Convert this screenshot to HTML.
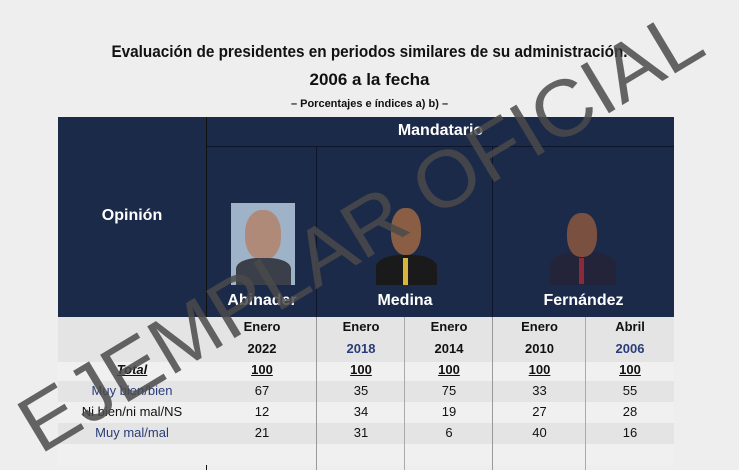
<!DOCTYPE html>
<html><head><meta charset="utf-8"><style>
body{margin:0;width:739px;height:470px;background:#eeeeee;overflow:hidden;position:relative;font-family:"Liberation Sans Narrow","Liberation Sans",sans-serif}
.a{position:absolute}
.t{position:absolute;text-align:center;white-space:nowrap}
.dk{background:#1c2a4a}
.w{color:#fff;font-weight:bold}
</style></head><body>
<div class="t" style="left:0;width:739px;top:42px;font-size:17px;font-weight:bold;color:#111;transform:scaleX(.9)">Evaluación de presidentes en periodos similares de su administración.</div>
<div class="t" style="left:0;width:739px;top:70px;font-size:17px;font-weight:bold;color:#111">2006 a la fecha</div>
<div class="t" style="left:0;width:739px;top:98px;font-size:11px;font-weight:bold;color:#111">– Porcentajes e índices a) b) –</div>

<div class="a dk" style="left:58px;top:117px;width:616px;height:200px"></div>
<div class="a" style="left:206px;top:117px;width:1px;height:353px;background:#111"></div>
<div class="a" style="left:207px;top:146px;width:467px;height:1px;background:#0d1528"></div>
<div class="a" style="left:316px;top:147px;width:1px;height:170px;background:#0d1528"></div>
<div class="a" style="left:492px;top:147px;width:1px;height:170px;background:#0d1528"></div>
<div class="t w" style="left:207px;width:467px;top:122px;font-size:16px">Mandatario</div>
<div class="t w" style="left:58px;width:148px;top:207px;font-size:16px">Opinión</div>

<div class="a" style="left:231px;top:203px;width:64px;height:82px;background:#9fb3c8"></div>
<div class="a" style="left:245px;top:210px;width:36px;height:50px;border-radius:45%;background:#b08a78"></div>
<div class="a" style="left:236px;top:258px;width:55px;height:27px;border-radius:40% 40% 0 0;background:#3a3f4a"></div>
<div class="a" style="left:376px;top:255px;width:61px;height:30px;border-radius:40% 40% 0 0;background:#1a1a1a"></div>
<div class="a" style="left:391px;top:208px;width:30px;height:47px;border-radius:45%;background:#8a5d45"></div>
<div class="a" style="left:403px;top:258px;width:5px;height:27px;background:#d9b53a"></div>
<div class="a" style="left:550px;top:252px;width:66px;height:33px;border-radius:40% 40% 0 0;background:#23243a"></div>
<div class="a" style="left:567px;top:213px;width:30px;height:44px;border-radius:45%;background:#7a5040"></div>
<div class="a" style="left:579px;top:258px;width:5px;height:26px;background:#8a2a3a"></div>

<div class="t w" style="left:207px;width:110px;top:292px;font-size:16px">Abinader</div>
<div class="t w" style="left:317px;width:176px;top:292px;font-size:16px">Medina</div>
<div class="t w" style="left:493px;width:181px;top:292px;font-size:16px">Fernández</div>

<div class="a" style="left:58px;top:317px;width:616px;height:45px;background:#e4e4e4"></div>
<div class="a" style="left:58px;top:362px;width:616px;height:19px;background:#f0f0f0"></div>
<div class="a" style="left:58px;top:381px;width:616px;height:21px;background:#e4e4e4"></div>
<div class="a" style="left:58px;top:402px;width:616px;height:21px;background:#f0f0f0"></div>
<div class="a" style="left:58px;top:423px;width:616px;height:21px;background:#e4e4e4"></div>
<div class="a" style="left:58px;top:444px;width:616px;height:21px;background:#f0f0f0"></div>
<div class="a" style="left:316px;top:317px;width:1px;height:153px;background:#999"></div>
<div class="a" style="left:404px;top:317px;width:1px;height:153px;background:#aaa"></div>
<div class="a" style="left:492px;top:317px;width:1px;height:153px;background:#999"></div>
<div class="a" style="left:585px;top:317px;width:1px;height:153px;background:#aaa"></div>

<div style="font-size:13px;color:#111">
<div class="t" style="left:207px;width:110px;top:319px;font-weight:bold">Enero</div>
<div class="t" style="left:317px;width:88px;top:319px;font-weight:bold">Enero</div>
<div class="t" style="left:405px;width:88px;top:319px;font-weight:bold">Enero</div>
<div class="t" style="left:493px;width:93px;top:319px;font-weight:bold">Enero</div>
<div class="t" style="left:586px;width:88px;top:319px;font-weight:bold">Abril</div>
<div class="t" style="left:207px;width:110px;top:341px;font-weight:bold">2022</div>
<div class="t" style="left:317px;width:88px;top:341px;font-weight:bold;color:#2a3d7a">2018</div>
<div class="t" style="left:405px;width:88px;top:341px;font-weight:bold">2014</div>
<div class="t" style="left:493px;width:93px;top:341px;font-weight:bold">2010</div>
<div class="t" style="left:586px;width:88px;top:341px;font-weight:bold;color:#2a3d7a">2006</div>
<div class="t" style="left:58px;width:148px;top:362px;font-weight:bold;font-style:italic;text-decoration:underline">Total</div>
<div class="t" style="left:207px;width:110px;top:362px;font-weight:bold;text-decoration:underline">100</div>
<div class="t" style="left:317px;width:88px;top:362px;font-weight:bold;text-decoration:underline">100</div>
<div class="t" style="left:405px;width:88px;top:362px;font-weight:bold;text-decoration:underline">100</div>
<div class="t" style="left:493px;width:93px;top:362px;font-weight:bold;text-decoration:underline">100</div>
<div class="t" style="left:586px;width:88px;top:362px;font-weight:bold;text-decoration:underline">100</div>

<div class="t" style="left:58px;width:148px;top:383px;color:#2a3d7a">Muy bien/bien</div>
<div class="t" style="left:207px;width:110px;top:383px">67</div>
<div class="t" style="left:317px;width:88px;top:383px">35</div>
<div class="t" style="left:405px;width:88px;top:383px">75</div>
<div class="t" style="left:493px;width:93px;top:383px">33</div>
<div class="t" style="left:586px;width:88px;top:383px">55</div>
<div class="t" style="left:58px;width:148px;top:404px">Ni bien/ni mal/NS</div>
<div class="t" style="left:207px;width:110px;top:404px">12</div>
<div class="t" style="left:317px;width:88px;top:404px">34</div>
<div class="t" style="left:405px;width:88px;top:404px">19</div>
<div class="t" style="left:493px;width:93px;top:404px">27</div>
<div class="t" style="left:586px;width:88px;top:404px">28</div>
<div class="t" style="left:58px;width:148px;top:425px;color:#2a3d7a">Muy mal/mal</div>
<div class="t" style="left:207px;width:110px;top:425px">21</div>
<div class="t" style="left:317px;width:88px;top:425px">31</div>
<div class="t" style="left:405px;width:88px;top:425px">6</div>
<div class="t" style="left:493px;width:93px;top:425px">40</div>
<div class="t" style="left:586px;width:88px;top:425px">16</div>
</div>

<svg class="a" style="left:0;top:0" width="739" height="470">
<text x="0" y="0" transform="translate(40,455) rotate(-31)" font-family="Liberation Sans, sans-serif" font-size="80" fill="#4a4a4a" fill-opacity="0.85" textLength="780" lengthAdjust="spacingAndGlyphs">EJEMPLAR OFICIAL</text>
</svg>
</body></html>
